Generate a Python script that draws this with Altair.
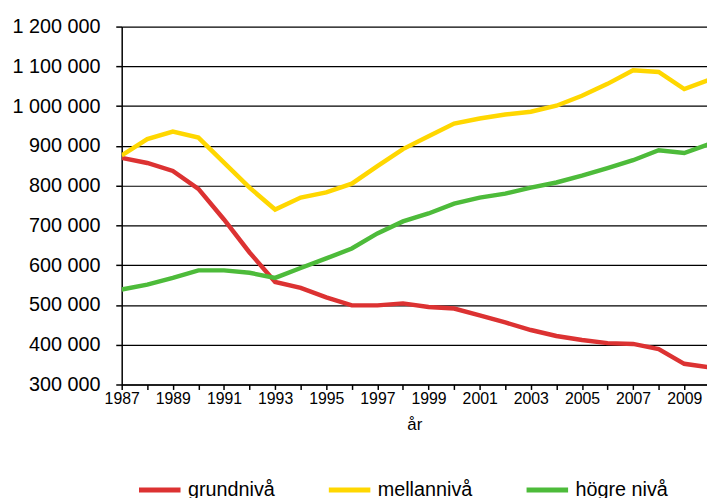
import altair as alt
import pandas as pd

years = list(range(1987, 2011))
grundniva = [870000, 857000, 837000, 792000, 715000, 632000, 558000, 543000, 519000, 499000,
             499000, 504000, 495000, 491000, 474000, 456000, 437000, 422000, 412000, 404000,
             402000, 389000, 352000, 343000]
mellanniva = [876000, 917000, 936000, 921000, 858000, 795000, 740000, 770000, 783000, 805000,
              849000, 892000, 924000, 956000, 969000, 979000, 986000, 1001000, 1026000, 1056000,
              1090000, 1086000, 1043000, 1067000]
hogreniva = [539000, 551000, 568000, 587000, 587000, 581000, 568000, 593000, 617000, 642000,
             680000, 710000, 730000, 755000, 770000, 780000, 795000, 808000, 825000, 844000,
             864000, 889000, 882000, 905000]

series_names = ["grundnivå", "mellannivå", "högre nivå"]
series_colors = ["#DC3232", "#FFD700", "#4DBB3A"]
y_ticks = list(range(300000, 1200001, 100000))
x_ticks = list(range(1987, 2011))

rows = []
for name, vals in zip(series_names, [grundniva, mellanniva, hogreniva]):
    for yr, v in zip(years, vals):
        rows.append({"år": yr, "antal": v, "serie": name})
df = pd.DataFrame(rows)

FONT = "Liberation Sans"

chart = alt.Chart(df).mark_line(strokeWidth=4.5, clip=True).encode(
    x=alt.X("år:Q",
            scale=alt.Scale(domain=[1987, 2009.89], nice=False, zero=False),
            axis=alt.Axis(values=x_ticks, format="d",
                          labelExpr="datum.value % 2 == 1 ? datum.label : ''",
                          grid=False, tickSize=5, tickColor="#000", domainColor="#000",
                          labelFontSize=16, labelColor="#000", labelPadding=1,
                          labelFlush=False, labelOverlap=False,
                          title="år", titleFontSize=17, titleFontWeight="normal",
                          titleColor="#000", titlePadding=11)),
    y=alt.Y("antal:Q",
            scale=alt.Scale(domain=[300000, 1200000], nice=False, zero=False),
            axis=alt.Axis(values=y_ticks,
                          labelExpr="replace(replace(format(datum.value, ','), ',', ' '), ',', ' ')",
                          grid=True, gridColor="#000", gridWidth=1.2, gridOpacity=1,
                          tickSize=6, tickColor="#000", domainColor="#000",
                          labelFontSize=20, labelColor="#000", labelPadding=16,
                          labelOverlap=False, title=None)),
    color=alt.Color("serie:N",
                    scale=alt.Scale(domain=series_names, range=series_colors),
                    sort=series_names,
                    legend=alt.Legend(title=None, orient="none", direction="horizontal",
                                      legendX=15, legendY=445,
                                      symbolType="stroke", symbolSize=1764,
                                      symbolStrokeWidth=5, labelFontSize=20,
                                      labelColor="#000", labelOffset=5,
                                      columnPadding=44, labelLimit=200)),
    order=alt.Order("serie:N"),
).properties(
    width=592, height=362,
    autosize=alt.AutoSizeParams(type="none"),
    padding={"left": 115, "top": 16, "right": 0, "bottom": 112},
).configure(
    font=FONT,
).configure_view(
    stroke=None,
).configure_axis(
    domainWidth=1.5, tickWidth=1.5,
)

chart.save("out.html", embed_options={"renderer": "svg", "actions": False})
